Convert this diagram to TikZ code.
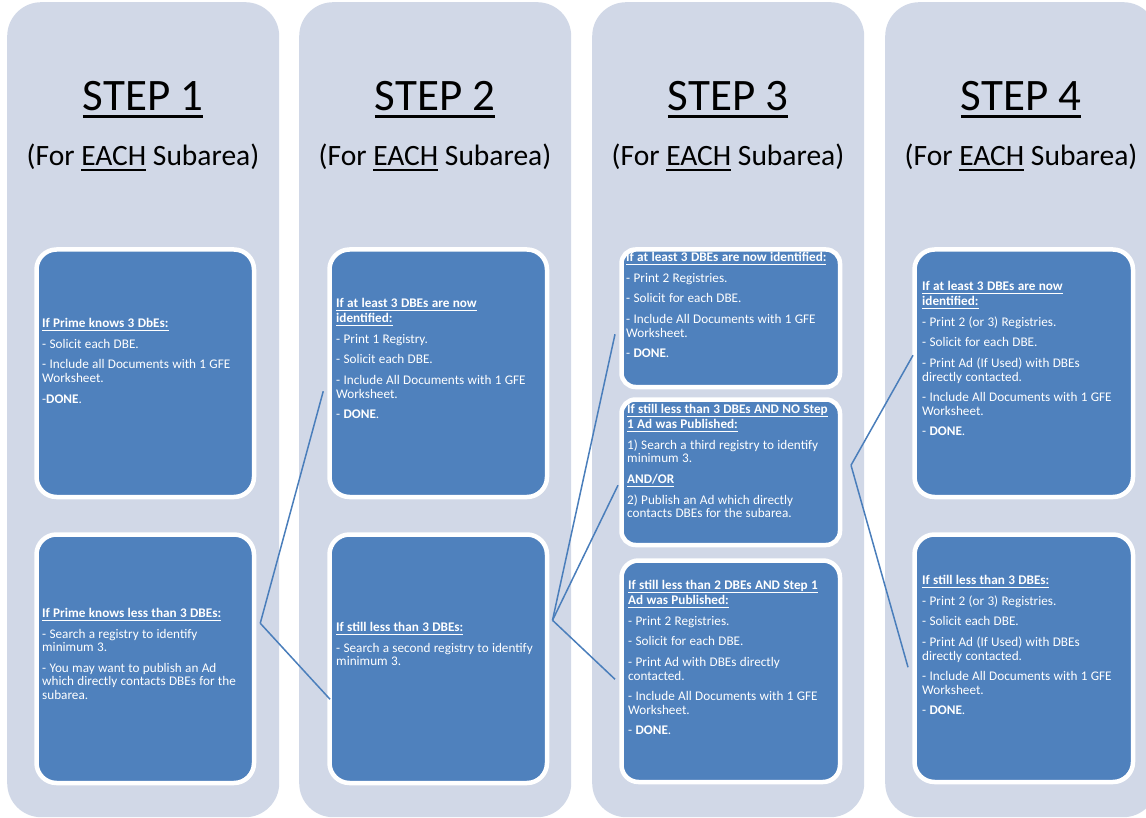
\documentclass[tikz,border=0pt]{standalone}
\usepackage{fontspec}
\setmainfont{Carlito}
\usetikzlibrary{calc}
\definecolor{colbg}{RGB}{209,216,231}
\definecolor{boxblue}{RGB}{79,129,189}
\definecolor{linkblue}{RGB}{74,126,187}
\newcommand{\myul}[3]{\setbox0\hbox{#3}\leavevmode\rlap{\rule[-#2]{\wd0}{#1}}\box0\relax}
\newcommand{\hd}[1]{\myul{1.1pt}{3.4pt}{\textbf{#1}}}
\tikzset{
  col/.style={fill=colbg, rounded corners=34pt, minimum width=272pt, minimum height=815pt, inner sep=0pt, anchor=north west},
  stepbox/.style={draw=white, line width=4.5pt, fill=boxblue, rounded corners=20pt, inner sep=0pt, anchor=north west},
  txt/.style={anchor=north west, inner sep=0pt, text=white, align=left, text width=#1,
    execute at begin node={\fontsize{13.2}{13.5}\selectfont\setlength{\parskip}{7.2pt}\hyphenpenalty=10000\exhyphenpenalty=10000}},
  ttl/.style={anchor=base, inner sep=0pt, font=\fontsize{45}{54}\selectfont},
  sub/.style={anchor=base, inner sep=0pt, font=\fontsize{29.5}{35}\selectfont},
  link/.style={draw=linkblue, line width=1.5pt}
}
\begin{document}
\begin{tikzpicture}[x=1pt,y=-1pt]
\useasboundingbox (0,0) rectangle (1146,818);
\clip (0,0) rectangle (1146,818);
% columns
\node[col] (col1) at (7,2) {};
\node[col] (col2) at (299,2) {};
\node[col] (col3) at (592,2) {};
\node[col] (col4) at (885,2) {};
% titles
\node[ttl] (t1) at (143,111) {\myul{3pt}{7.5pt}{STEP 1}};
\node[ttl] (t2) at (435,111) {\myul{3pt}{7.5pt}{STEP 2}};
\node[ttl] (t3) at (728,111) {\myul{3pt}{7.5pt}{STEP 3}};
\node[ttl] (t4) at (1021,111) {\myul{3pt}{7.5pt}{STEP 4}};
\node[sub] (u1) at (143,166) {(For \myul{1.8pt}{5pt}{EACH} Subarea)};
\node[sub] (u2) at (435,166) {(For \myul{1.8pt}{5pt}{EACH} Subarea)};
\node[sub] (u3) at (728,166) {(For \myul{1.8pt}{5pt}{EACH} Subarea)};
\node[sub] (u4) at (1021,166) {(For \myul{1.8pt}{5pt}{EACH} Subarea)};
% boxes
\node[stepbox, minimum width=217.5pt, minimum height=247.5pt] (s1a) at (34.25,247.25) {};
\node[stepbox, minimum width=217.5pt, minimum height=248.5pt] (s1b) at (34.25,532.25) {};
\node[stepbox, minimum width=217.5pt, minimum height=247.5pt] (s2a) at (327.25,247.25) {};
\node[stepbox, minimum width=217.5pt, minimum height=248.5pt] (s2b) at (327.25,532.25) {};
\node[stepbox, rounded corners=14pt, minimum width=218.5pt, minimum height=137.5pt] (s3a) at (619.25,247.25) {};
\node[stepbox, rounded corners=14pt, minimum width=218.5pt, minimum height=145.5pt] (s3b) at (619.25,397.25) {};
\node[stepbox, rounded corners=17pt, minimum width=218.5pt, minimum height=221.5pt] (s3c) at (619.25,558.25) {};
\node[stepbox, minimum width=218.5pt, minimum height=247.5pt] (s4a) at (912.25,247.25) {};
\node[stepbox, minimum width=218.5pt, minimum height=247.5pt] (s4b) at (912.25,532.25) {};
% texts
\node[txt=202pt] (s1at) at (42,318) {\hd{If Prime knows 3 DbEs:}\par - Solicit each DBE.\par - Include all Documents with 1 GFE Worksheet.\par -\textbf{DONE}.};
\node[txt=202pt] (s1bt) at (42,608) {\hd{If Prime knows less than 3 DBEs:}\par - Search a registry to identify minimum 3.\par - You may want to publish an Ad which directly contacts DBEs for the subarea.};
\node[txt=198pt] (s2at) at (336,298) {\hd{If at least 3 DBEs are now}\\[1.5pt]\hd{identified:}\par - Print 1 Registry.\par - Solicit each DBE.\par - Include All Documents with 1 GFE Worksheet.\par - \textbf{DONE}.};
\node[txt=198pt] (s2bt) at (336,622) {\hd{If still less than 3 DBEs:}\par - Search a second registry to identify minimum 3.};
\node[txt=206pt] (s3at) at (626,252) {\hd{If at least 3 DBEs are now identified:}\par - Print 2 Registries.\par - Solicit for each DBE.\par - Include All Documents with 1 GFE Worksheet.\par - \textbf{DONE}.};
\node[txt=206pt] (s3bt) at (627,404) {\hd{If still less than 3 DBEs AND NO Step}\\[1.5pt]\hd{1 Ad was Published:}\par 1) Search a third registry to identify minimum 3.\par \hd{AND/OR}\par 2) Publish an Ad which directly contacts DBEs for the subarea.};
\node[txt=206pt] (s3ct) at (628,580) {\hd{If still less than 2 DBEs AND Step 1}\\[1.5pt]\hd{Ad was Published:}\par - Print 2 Registries.\par - Solicit for each DBE.\par - Print Ad with DBEs directly contacted.\par - Include All Documents with 1 GFE Worksheet.\par - \textbf{DONE}.};
\node[txt=199pt] (s4at) at (922,281) {\hd{If at least 3 DBEs are now}\\[1.5pt]\hd{identified:}\par - Print 2 (or 3) Registries.\par - Solicit for each DBE.\par - Print Ad (If Used) with DBEs directly contacted.\par - Include All Documents with 1 GFE Worksheet.\par - \textbf{DONE}.};
\node[txt=199pt] (s4bt) at (922,575) {\hd{If still less than 3 DBEs:}\par - Print 2 (or 3) Registries.\par - Solicit each DBE.\par - Print Ad (If Used) with DBEs directly contacted.\par - Include All Documents with 1 GFE Worksheet.\par - \textbf{DONE}.};
% connectors
\coordinate (j1) at ($(s1b.east)+(4pt,35.5pt)$);
\coordinate (j2) at ($(s2b.east)+(3.25pt,38.5pt)$);
\coordinate (j3) at ($(s3b.east)+(8.75pt,7pt)$);
\draw[link] (j1) -- ($(s2a.west)+(-4pt,-18pt)$);
\draw[link] (j1) -- ($(s2b.west)+(2.75pt,-40.5pt)$);
\draw[link] (j2) -- ($(s3a.west)+(-4.25pt,-16pt)$);
\draw[link] (j2) -- ($(s3b.west)+(-1.25pt,-13pt)$);
\draw[link] (j2) -- ($(s3c.west)+(-4.25pt,-8pt)$);
\draw[link] (j3) -- ($(s4a.west)+(0.75pt,18pt)$);
\draw[link] (j3) -- ($(s4b.west)+(-4.25pt,-9pt)$);
\end{tikzpicture}
\end{document}
